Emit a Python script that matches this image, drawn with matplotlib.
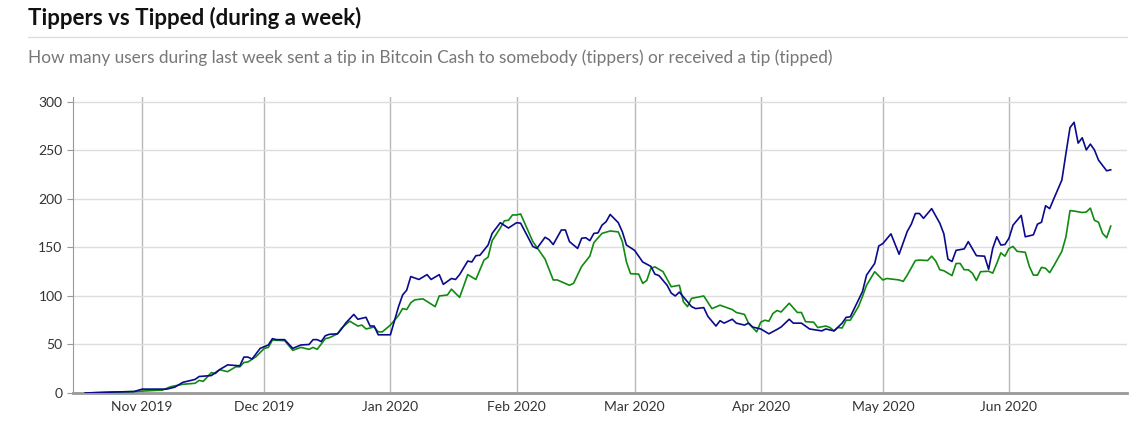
import numpy as np
import matplotlib
matplotlib.use("Agg")
import matplotlib.pyplot as plt
import matplotlib.dates as mdates
from matplotlib.lines import Line2D

# weekly counts
tippers = [
    ("2019-10-18", 0), ("2019-10-25", 1), ("2019-10-30", 1.5), ("2019-11-01", 4),
    ("2019-11-07", 4), ("2019-11-09", 6), ("2019-11-11", 11), ("2019-11-12", 12),
    ("2019-11-14", 14), ("2019-11-15", 17), ("2019-11-18", 18), ("2019-11-20", 24),
    ("2019-11-22", 29), ("2019-11-25", 28), ("2019-11-26", 37), ("2019-11-27", 37),
    ("2019-11-28", 35), ("2019-11-30", 46),
    ("2019-12-02", 49.5), ("2019-12-03", 56), ("2019-12-04", 55), ("2019-12-06", 55),
    ("2019-12-08", 46), ("2019-12-10", 49.5), ("2019-12-12", 50), ("2019-12-13", 55),
    ("2019-12-14", 55), ("2019-12-15", 53), ("2019-12-16", 59), ("2019-12-17", 60.5),
    ("2019-12-19", 61), ("2019-12-20", 66), ("2019-12-21", 72), ("2019-12-23", 81),
    ("2019-12-24", 76), ("2019-12-26", 78), ("2019-12-27", 69), ("2019-12-28", 69),
    ("2019-12-29", 60),
    ("2020-01-01", 60), ("2020-01-03", 89), ("2020-01-04", 101), ("2020-01-05", 106),
    ("2020-01-06", 120), ("2020-01-08", 117), ("2020-01-10", 122), ("2020-01-11", 117),
    ("2020-01-13", 122), ("2020-01-14", 112), ("2020-01-16", 118), ("2020-01-17", 117),
    ("2020-01-18", 122), ("2020-01-20", 136), ("2020-01-21", 135), ("2020-01-22", 141.5),
    ("2020-01-23", 142), ("2020-01-25", 152.5), ("2020-01-26", 164.5), ("2020-01-28", 175.5),
    ("2020-01-30", 170),
    ("2020-02-01", 175.5), ("2020-02-02", 175), ("2020-02-05", 151), ("2020-02-06", 149),
    ("2020-02-08", 160.5), ("2020-02-09", 158), ("2020-02-10", 153), ("2020-02-12", 168),
    ("2020-02-13", 168), ("2020-02-14", 156), ("2020-02-16", 149), ("2020-02-17", 159.5),
    ("2020-02-18", 160), ("2020-02-19", 157), ("2020-02-20", 164.5), ("2020-02-21", 165),
    ("2020-02-22", 173), ("2020-02-23", 176.5), ("2020-02-24", 184), ("2020-02-26", 175.5),
    ("2020-02-27", 166), ("2020-02-28", 152.5),
    ("2020-03-01", 147), ("2020-03-03", 135), ("2020-03-05", 130.5), ("2020-03-06", 122.5),
    ("2020-03-07", 121), ("2020-03-09", 111), ("2020-03-10", 103), ("2020-03-11", 100),
    ("2020-03-12", 104), ("2020-03-15", 89), ("2020-03-16", 87), ("2020-03-18", 88),
    ("2020-03-19", 79), ("2020-03-21", 69), ("2020-03-22", 74.5), ("2020-03-23", 72),
    ("2020-03-25", 76), ("2020-03-26", 72), ("2020-03-28", 70), ("2020-03-29", 72),
    ("2020-03-30", 68),
    ("2020-04-01", 66), ("2020-04-03", 61), ("2020-04-05", 65.5), ("2020-04-06", 68),
    ("2020-04-08", 76), ("2020-04-09", 72), ("2020-04-11", 72), ("2020-04-13", 66),
    ("2020-04-16", 64), ("2020-04-17", 66), ("2020-04-19", 64), ("2020-04-21", 72),
    ("2020-04-22", 78), ("2020-04-23", 78.5), ("2020-04-26", 104.5), ("2020-04-27", 121.5),
    ("2020-04-29", 133.5), ("2020-04-30", 151.5),
    ("2020-05-01", 154), ("2020-05-03", 164), ("2020-05-05", 143), ("2020-05-07", 166.5),
    ("2020-05-08", 174), ("2020-05-09", 185), ("2020-05-10", 185), ("2020-05-11", 180),
    ("2020-05-13", 190), ("2020-05-15", 175), ("2020-05-16", 164), ("2020-05-17", 138),
    ("2020-05-18", 135.5), ("2020-05-19", 147), ("2020-05-21", 148.5), ("2020-05-22", 156),
    ("2020-05-24", 141.5), ("2020-05-26", 141), ("2020-05-27", 127.5), ("2020-05-28", 149),
    ("2020-05-29", 161), ("2020-05-30", 152.5), ("2020-05-31", 153),
    ("2020-06-01", 159.5), ("2020-06-02", 173), ("2020-06-04", 183), ("2020-06-05", 161),
    ("2020-06-07", 163), ("2020-06-08", 174), ("2020-06-09", 176), ("2020-06-10", 193),
    ("2020-06-11", 190), ("2020-06-12", 200), ("2020-06-14", 219.5), ("2020-06-15", 247),
    ("2020-06-16", 273.5), ("2020-06-17", 279), ("2020-06-18", 257.5), ("2020-06-19", 263),
    ("2020-06-20", 250.5), ("2020-06-21", 256.5), ("2020-06-22", 250.5), ("2020-06-23", 240),
    ("2020-06-25", 229), ("2020-06-26", 230),
]

tipped = [
    ("2019-10-18", 0), ("2019-10-25", 1), ("2019-10-30", 1.5), ("2019-11-01", 2),
    ("2019-11-06", 3), ("2019-11-08", 6.5), ("2019-11-11", 9), ("2019-11-14", 10),
    ("2019-11-15", 13), ("2019-11-16", 12), ("2019-11-18", 21), ("2019-11-19", 20),
    ("2019-11-20", 24), ("2019-11-22", 22), ("2019-11-24", 27), ("2019-11-25", 27),
    ("2019-11-26", 31.5), ("2019-11-27", 32), ("2019-11-29", 37.5),
    ("2019-12-01", 46), ("2019-12-02", 47), ("2019-12-03", 54.5), ("2019-12-06", 54),
    ("2019-12-08", 44), ("2019-12-10", 47), ("2019-12-12", 45), ("2019-12-13", 47),
    ("2019-12-14", 45), ("2019-12-16", 56), ("2019-12-17", 57), ("2019-12-19", 61),
    ("2019-12-20", 67), ("2019-12-22", 74), ("2019-12-24", 69), ("2019-12-25", 70),
    ("2019-12-26", 66), ("2019-12-28", 68), ("2019-12-29", 63), ("2019-12-30", 63),
    ("2020-01-01", 70), ("2020-01-03", 80), ("2020-01-04", 87), ("2020-01-05", 86),
    ("2020-01-06", 93), ("2020-01-07", 96), ("2020-01-09", 97), ("2020-01-12", 89),
    ("2020-01-13", 100), ("2020-01-15", 101), ("2020-01-16", 107), ("2020-01-18", 98.5),
    ("2020-01-20", 122), ("2020-01-22", 117), ("2020-01-24", 137), ("2020-01-25", 140),
    ("2020-01-26", 157), ("2020-01-28", 170), ("2020-01-29", 177.5), ("2020-01-30", 178),
    ("2020-01-31", 183.5),
    ("2020-02-01", 183.5), ("2020-02-02", 184.5), ("2020-02-03", 175), ("2020-02-05", 156),
    ("2020-02-07", 144), ("2020-02-08", 138), ("2020-02-10", 116.5), ("2020-02-11", 116.5),
    ("2020-02-14", 111), ("2020-02-15", 113), ("2020-02-17", 130.5), ("2020-02-19", 141),
    ("2020-02-20", 155), ("2020-02-22", 164.5), ("2020-02-24", 167), ("2020-02-26", 166),
    ("2020-02-27", 156), ("2020-02-28", 135), ("2020-02-29", 123),
    ("2020-03-02", 122.5), ("2020-03-03", 113), ("2020-03-04", 116), ("2020-03-05", 128.5),
    ("2020-03-06", 130), ("2020-03-08", 125), ("2020-03-10", 109.5), ("2020-03-12", 111),
    ("2020-03-13", 94), ("2020-03-14", 89), ("2020-03-15", 97.5), ("2020-03-18", 100),
    ("2020-03-20", 87), ("2020-03-22", 90.5), ("2020-03-25", 86), ("2020-03-26", 83),
    ("2020-03-28", 81), ("2020-03-29", 72), ("2020-03-31", 63),
    ("2020-04-01", 73), ("2020-04-02", 75), ("2020-04-03", 74), ("2020-04-04", 82),
    ("2020-04-05", 85), ("2020-04-06", 83.5), ("2020-04-08", 92.5), ("2020-04-10", 83),
    ("2020-04-11", 83), ("2020-04-12", 73.5), ("2020-04-14", 73), ("2020-04-15", 67.5),
    ("2020-04-17", 69), ("2020-04-18", 67.5), ("2020-04-19", 64), ("2020-04-20", 67.5),
    ("2020-04-21", 67), ("2020-04-22", 75), ("2020-04-23", 75), ("2020-04-25", 89),
    ("2020-04-26", 99.5), ("2020-04-27", 111), ("2020-04-29", 125),
    ("2020-05-01", 116.5), ("2020-05-02", 118), ("2020-05-05", 116.5), ("2020-05-06", 115),
    ("2020-05-07", 121.5), ("2020-05-09", 136.5), ("2020-05-10", 137), ("2020-05-12", 136.5),
    ("2020-05-13", 141), ("2020-05-14", 136), ("2020-05-15", 127), ("2020-05-16", 126),
    ("2020-05-18", 121), ("2020-05-19", 133.5), ("2020-05-20", 133.5), ("2020-05-21", 127),
    ("2020-05-22", 127), ("2020-05-23", 123.5), ("2020-05-24", 116), ("2020-05-25", 125),
    ("2020-05-27", 125.5), ("2020-05-28", 123.5), ("2020-05-29", 133.5), ("2020-05-30", 144.5),
    ("2020-05-31", 141),
    ("2020-06-01", 149), ("2020-06-02", 151), ("2020-06-03", 146), ("2020-06-05", 145),
    ("2020-06-06", 130.5), ("2020-06-07", 121.5), ("2020-06-08", 121.5), ("2020-06-09", 129.5),
    ("2020-06-10", 128.5), ("2020-06-11", 124), ("2020-06-12", 131), ("2020-06-14", 146),
    ("2020-06-15", 161), ("2020-06-16", 188), ("2020-06-17", 187.5), ("2020-06-19", 186),
    ("2020-06-20", 186.5), ("2020-06-21", 190.5), ("2020-06-22", 178), ("2020-06-23", 176),
    ("2020-06-24", 164.5), ("2020-06-25", 160), ("2020-06-26", 172),
]

month_ticks = ["2019-11-01", "2019-12-01", "2020-01-01", "2020-02-01",
               "2020-03-01", "2020-04-01", "2020-05-01", "2020-06-01"]
y_ticks = [0, 50, 100, 150, 200, 250, 300]

title = "Tippers vs Tipped (during a week)"
subtitle = ("How many users during last week sent a tip in Bitcoin Cash to somebody "
            "(tippers) or received a tip (tipped)")


def unzip(pairs):
    d = np.array([p[0] for p in pairs], dtype="datetime64[D]")
    v = np.array([p[1] for p in pairs], dtype=float)
    return d, v


plt.rcParams['font.family'] = ['Lato', 'DejaVu Sans']

fig = plt.figure(figsize=(11.37, 4.21), dpi=100)

fig.text(0.0246, 0.958, title, fontsize=16, fontweight='bold', color='#111111',
         ha='left', va='center')
fig.add_artist(Line2D([0.0246, 0.991], [0.912, 0.912], color='#dddddd', lw=1))
fig.text(0.0246, 0.862, subtitle, fontsize=12.4, color='#777777', ha='left', va='center')

ax = fig.add_axes([0.0642, 0.0665, 0.927, 0.703])

d1, v1 = unzip(tipped)
d2, v2 = unzip(tippers)
ax.plot(d1, v1, color='#108a10', lw=1.2, zorder=3)
ax.plot(d2, v2, color='#0a0a8c', lw=1.2, zorder=4)

ax.set_xlim(np.datetime64("2019-10-15"), np.datetime64("2020-06-30"))
ax.set_ylim(0, 305)

ax.set_xticks(np.array(month_ticks, dtype="datetime64[D]"))
ax.xaxis.set_major_formatter(mdates.DateFormatter("%b %Y"))
ax.set_yticks(y_ticks)

ax.grid(axis='x', color='#b8b8b8', lw=1)
ax.grid(axis='y', color='#dddddd', lw=1)
ax.set_axisbelow(True)

for s in ['top', 'right']:
    ax.spines[s].set_visible(False)
ax.spines['left'].set_color('#999999')
ax.spines['bottom'].set_color('#999999')
ax.spines['bottom'].set_linewidth(2)
ax.tick_params(axis='x', length=0, labelsize=10, labelcolor='#333333', pad=6)
ax.tick_params(axis='y', length=4, color='#999999', labelsize=10, labelcolor='#333333')

fig.savefig("out.png", dpi=100)
